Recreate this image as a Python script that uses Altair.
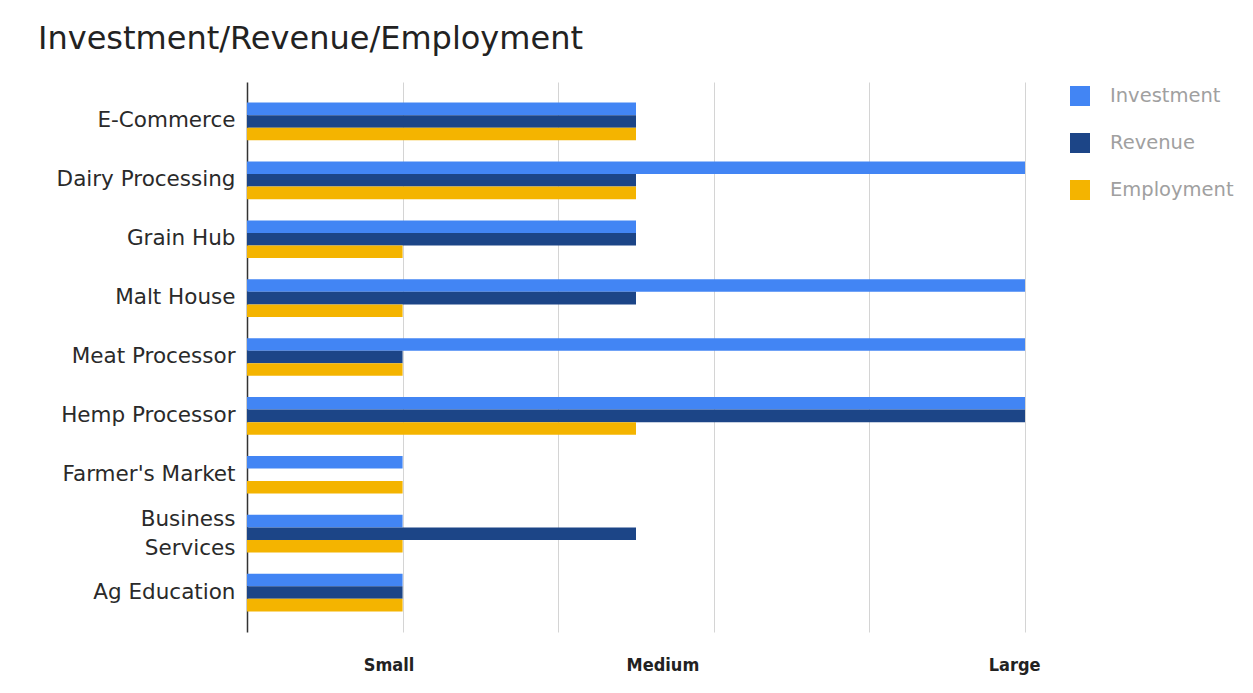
import altair as alt
import pandas as pd

categories = ["E-Commerce", "Dairy Processing", "Grain Hub", "Malt House", "Meat Processor",
              "Hemp Processor", "Farmer's Market", "Business Services", "Ag Education"]
investment = [2.5, 5, 2.5, 5, 5, 5, 1, 1, 1]
revenue = [2.5, 2.5, 2.5, 2.5, 1, 5, 0, 2.5, 1]
employment = [2.5, 2.5, 1, 1, 1, 2.5, 1, 1, 1]
series = ["Investment", "Revenue", "Employment"]
colors = ["#4285F4", "#1C4587", "#F4B400"]
grid_values = [0, 1, 2, 3, 4, 5]
size_labels = ["Small", "Medium", "Large"]
size_label_at = [0.91, 2.67, 4.93]

rows = []
for i, c in enumerate(categories):
    for s, vals in zip(series, [investment, revenue, employment]):
        rows.append({"category": c, "series": s, "value": vals[i]})
df = pd.DataFrame(rows)

label_expr = " : ".join(
    [f"abs(datum.value - {v}) < 0.001 ? '{t}'" for v, t in zip(size_label_at, size_labels)]
) + " : ''"

axis_values = sorted(grid_values + size_label_at)

chart = alt.Chart(df).mark_bar(height={"band": 1}).encode(
    y=alt.Y("category:N", sort=categories, title=None,
            scale=alt.Scale(paddingInner=0.36, paddingOuter=0.35),
            axis=alt.Axis(labelFont="DejaVu Sans", labelFontSize=21.5, labelColor="#2a2a2a",
                          labelPadding=12, ticks=False, domainColor="#333333", domainWidth=1.5,
                          labelExpr="datum.label == 'Business Services' ? ['Business', 'Services'] : datum.label",
                          labelLineHeight=29,
                          labelOffset={"condition": {"test": "datum.value == 'Business Services'",
                                                     "value": -14}, "value": 0})),
    yOffset=alt.YOffset("series:N", sort=series),
    x=alt.X("value:Q", title=None, scale=alt.Scale(domain=[0, 5], nice=False),
            axis=alt.Axis(values=axis_values, labelExpr=label_expr, ticks=False, domain=False,
                          gridColor={"condition": {"test": "datum.value % 1 === 0 && datum.value > 0",
                                                   "value": "#d4d4d4"}, "value": "transparent"},
                          labelFont="DejaVu Sans Condensed",
                          labelFontWeight="bold", labelFontSize=18, labelColor="#222222",
                          labelPadding=24, labelFlush=False)),
    color=alt.Color("series:N", sort=series, scale=alt.Scale(domain=series, range=colors),
                    legend=alt.Legend(title=None, orient="none", legendX=823, legendY=4,
                                      symbolType="square", symbolSize=400, symbolStrokeWidth=0,
                                      labelFont="DejaVu Sans", labelFontSize=19.5, labelColor="#a0a0a0",
                                      rowPadding=27, labelOffset=20)),
).properties(
    width=778, height=550,
    title=alt.TitleParams("Investment/Revenue/Employment", anchor="start", frame="group",
                          dx=-209, offset=26, font="DejaVu Sans", fontSize=32, fontWeight="normal",
                          color="#222222"),
    padding={"left": 247, "top": 82, "right": 228, "bottom": 61},
    autosize=alt.AutoSizeParams(type="none"),
    background="white",
).configure_view(stroke=None)

chart.save("out.html", embed_options={"renderer": "svg", "actions": False})
